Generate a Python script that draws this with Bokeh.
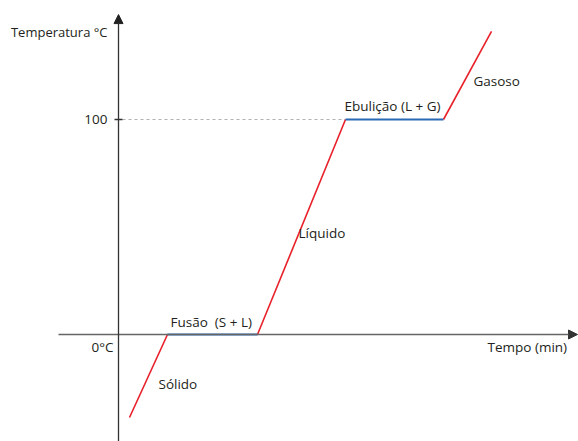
from bokeh.plotting import figure
from bokeh.models import Range1d, Arrow, NormalHead
from bokeh.embed import file_html
from bokeh.resources import INLINE
from bokeh.core.properties import value

# Data (time in arbitrary minutes, temperature in °C)
time = [1.1, 4.9, 13.9, 22.7, 32.5, 37.3]
temp = [-38.6, 0, 0, 100, 100, 141]
heating_segments = [(0, 1), (2, 3), (4, 5)]   # red: single phase heating
plateau_segments = [(1, 2), (3, 4)]           # blue: phase change
y_tick_value = 100
y_tick_label = "100"
zero_label = "0°C"
phase_labels = ["Fusão\u00a0 (S + L)", "Sólido", "Líquido", "Ebulição (L + G)", "Gasoso"]
phase_label_x = [5.2, 4.0, 18.0, 22.6, 35.5]
phase_label_y = [5.6, -22.8, 47.0, 106.5, 118.1]
x_title = "Tempo (min)"
y_title = "Temperatura °C"

RED = "#e8202a"
BLUE = "#2a6ab5"
TXT = "#231f20"
FONT = value("Open Sans")
FS = "13.5px"

p = figure(width=578, height=441, output_backend="svg", toolbar_location=None,
           x_range=Range1d(-11.8, 46.0), y_range=Range1d(-49.77, 155.35),
           min_border=0)
p.axis.visible = False
p.grid.visible = False
p.outline_line_color = None

# dashed guide at 100
p.line([0.4, time[3]], [y_tick_value, y_tick_value], line_color="#b0b0b0",
       line_width=1, line_dash="3 3")

# axes
p.add_layout(Arrow(end=NormalHead(size=9, fill_color="#333333", line_color="#333333"),
                   x_start=-6, y_start=0, x_end=45.9, y_end=0,
                   line_color="#666666", line_width=1.5))
p.add_layout(Arrow(end=NormalHead(size=9, fill_color="#222222", line_color="#222222"),
                   x_start=0, y_start=-49.5, x_end=0, y_end=148.8,
                   line_color="#333333", line_width=1.3))
p.line([-0.4, 0.4], [y_tick_value, y_tick_value], line_color="#333333", line_width=1.3)

for a, b in heating_segments:
    p.line([time[a], time[b]], [temp[a], temp[b]], line_color=RED, line_width=1.6)
for a, b in plateau_segments:
    p.line([time[a], time[b]], [temp[a], temp[b]], line_color=BLUE, line_width=2)

p.text(x=[-1.1], y=[y_tick_value], text=[y_tick_label], text_align="right",
       text_baseline="middle", text_font=FONT, text_font_size=FS, text_color=TXT)
p.text(x=[-0.5], y=[-5.6], text=[zero_label], text_align="right",
       text_baseline="middle", text_font=FONT, text_font_size=FS, text_color=TXT)
p.text(x=[-1.1], y=[140.9], text=[y_title], text_align="right",
       text_baseline="middle", text_font=FONT, text_font_size="13px", text_color=TXT)
p.text(x=[36.9], y=[-6.0], text=[x_title], text_align="left",
       text_baseline="middle", text_font=FONT, text_font_size=FS, text_color=TXT)
p.text(x=phase_label_x, y=phase_label_y, text=phase_labels, text_align="left",
       text_baseline="middle", text_font=FONT, text_font_size=FS, text_color=TXT)

open("out.html", "w").write(file_html(p, INLINE))
